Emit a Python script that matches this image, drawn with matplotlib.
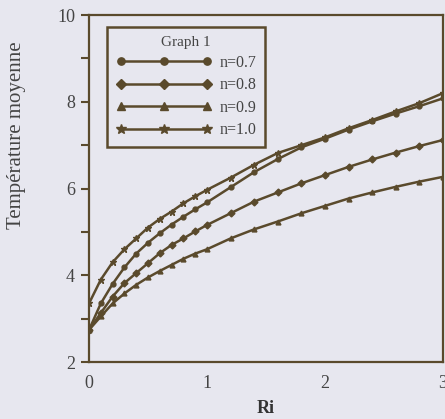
import numpy as np
import matplotlib
matplotlib.use('Agg')
import matplotlib.pyplot as plt
from matplotlib.ticker import MultipleLocator

ri = [0, 0.1, 0.2, 0.3, 0.4, 0.5, 0.6, 0.7, 0.8, 0.9, 1.0,
      1.2, 1.4, 1.6, 1.8, 2.0, 2.2, 2.4, 2.6, 2.8, 3.0]

t_n07 = [2.74, 3.35, 3.80, 4.18, 4.50, 4.75, 4.97, 5.17, 5.35, 5.52, 5.68,
         6.03, 6.38, 6.68, 6.95, 7.15, 7.36, 7.55, 7.73, 7.90, 8.08]
t_n08 = [2.74, 3.13, 3.51, 3.82, 4.05, 4.28, 4.51, 4.70, 4.85, 5.01, 5.16,
         5.43, 5.70, 5.91, 6.12, 6.31, 6.50, 6.67, 6.83, 6.98, 7.12]
t_n09 = [2.74, 3.05, 3.35, 3.58, 3.78, 3.95, 4.10, 4.24, 4.38, 4.50, 4.60,
         4.85, 5.06, 5.24, 5.43, 5.60, 5.77, 5.91, 6.04, 6.16, 6.27]
t_n10 = [3.35, 3.90, 4.30, 4.60, 4.85, 5.10, 5.30, 5.47, 5.66, 5.82, 5.97,
         6.25, 6.55, 6.82, 7.00, 7.18, 7.39, 7.58, 7.78, 7.97, 8.20]

labels = ['n=0.7', 'n=0.8', 'n=0.9', 'n=1.0']
markers = ['o', 'D', '^', '*']

col = '#5a4a2c'
bg = '#e7e7ef'

plt.rcParams['font.family'] = ['Liberation Serif', 'DejaVu Serif']

fig = plt.figure(figsize=(4.45, 4.19), dpi=100, facecolor=bg)
ax = fig.add_axes([0.2, 0.136, 0.7955, 0.828], facecolor=bg)

for y, lab, m in zip([t_n07, t_n08, t_n09, t_n10], labels, markers):
    ax.plot(ri, y, color=col, lw=1.8, marker=m, ms=3.5 if m != '*' else 5,
            mfc=col, mec=col, label=lab)

ax.set_xlim(0, 3)
ax.set_ylim(2, 10)
ax.set_xticks([0, 1, 2, 3])
ax.yaxis.set_major_locator(MultipleLocator(2))
ax.yaxis.set_minor_locator(MultipleLocator(1))
ax.tick_params(axis='y', which='both', direction='out', length=6, width=1.5,
               color=col, labelsize=13, labelcolor='#444444', pad=4)
ax.tick_params(axis='x', length=0, labelsize=13, labelcolor='#444444', pad=9)
for s in ax.spines.values():
    s.set_color(col)
    s.set_linewidth(1.6)

ax.set_xlabel('Ri', fontsize=13, fontweight='bold', color='#333333', labelpad=6)
ax.set_ylabel('Température moyenne', fontsize=15, color='#444444')
ax.yaxis.set_label_coords(-0.178, 0.654)

leg = ax.legend(title='Graph 1', loc='upper left', bbox_to_anchor=(0.051, 0.966),
                borderaxespad=0, fontsize=11.5, title_fontsize=11, numpoints=3,
                handlelength=6.0, markerscale=1.5,
                fancybox=False, framealpha=1, facecolor=bg, edgecolor=col,
                borderpad=0.55, labelspacing=0.4, handletextpad=0.5)
leg.get_frame().set_linewidth(1.8)
for t in leg.get_texts():
    t.set_color('#444444')
leg.get_title().set_color('#444444')

fig.savefig('out.png', dpi=100, facecolor=bg)
